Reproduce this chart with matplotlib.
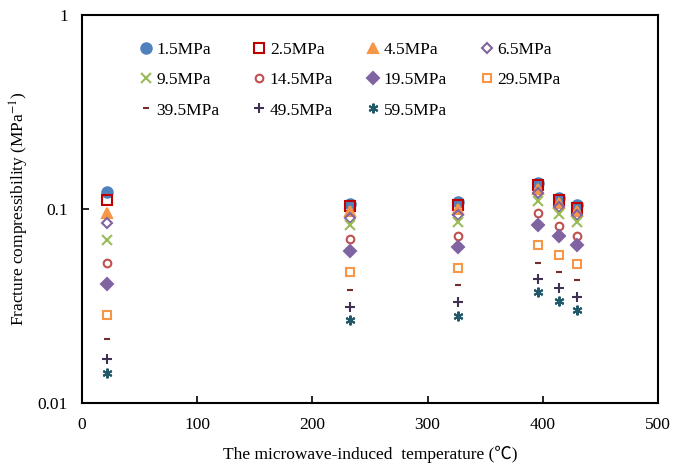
import numpy as np
import matplotlib.pyplot as plt

plt.rcParams['font.family'] = ['Liberation Serif', 'Noto Sans CJK SC', 'DejaVu Sans']
plt.rcParams['mathtext.fontset'] = 'stix'

# microwave-induced temperature of each sample (C)
temps = [22, 233, 326, 396, 414, 430]

pressures = ['1.5MPa', '2.5MPa', '4.5MPa', '6.5MPa', '9.5MPa', '14.5MPa',
             '19.5MPa', '29.5MPa', '39.5MPa', '49.5MPa', '59.5MPa']

# fracture compressibility (MPa^-1), one list per effective stress
c_1_5 = [0.122, 0.106, 0.109, 0.136, 0.114, 0.105]
c_2_5 = [0.111, 0.104, 0.105, 0.133, 0.111, 0.101]
c_4_5 = [0.095, 0.098, 0.100, 0.127, 0.107, 0.098]
c_6_5 = [0.085, 0.090, 0.093, 0.121, 0.102, 0.093]
c_9_5 = [0.069, 0.083, 0.086, 0.110, 0.094, 0.086]
c_14_5 = [0.053, 0.070, 0.073, 0.095, 0.082, 0.073]
c_19_5 = [0.041, 0.061, 0.064, 0.083, 0.073, 0.065]
c_29_5 = [0.0284, 0.0473, 0.0497, 0.065, 0.058, 0.052]
c_39_5 = [0.0214, 0.0382, 0.0406, 0.0527, 0.0473, 0.0431]
c_49_5 = [0.0169, 0.0312, 0.0332, 0.0436, 0.0391, 0.0352]
c_59_5 = [0.0143, 0.0268, 0.0281, 0.0373, 0.0336, 0.0302]

series = [c_1_5, c_2_5, c_4_5, c_6_5, c_9_5, c_14_5,
          c_19_5, c_29_5, c_39_5, c_49_5, c_59_5]

# marker, size, face colour, edge colour
styles = [
    ('o', 7.5, '#4F81BD', '#4F81BD'),
    ('s', 7, 'none', '#C00000'),
    ('^', 7, '#F79646', '#F79646'),
    ('D', 5.5, 'none', '#8064A2'),
    ('x', 7, 'none', '#9BBB59'),
    ('o', 5.5, 'none', '#C0504D'),
    ('D', 6, '#8064A2', '#8064A2'),
    ('s', 6, 'none', '#F79646'),
    ('_', 5, 'none', '#772C2A'),
    ('+', 7, 'none', '#403152'),
    ((6, 2, 0), 7, 'none', '#215968'),
]

fig = plt.figure(figsize=(6.73, 4.65), dpi=100)
ax = fig.add_axes([0.1218, 0.1333, 0.8559, 0.8344])

handles = []
for vals, name, (m, ms, fc, ec) in zip(series, pressures, styles):
    h, = ax.plot(temps, vals, linestyle='none', marker=m, markersize=ms,
                 markerfacecolor=fc, markeredgecolor=ec, markeredgewidth=1.5,
                 label=name)
    handles.append(h)

ax.set_yscale('log')
ax.set_xlim(0, 500)
ax.set_ylim(0.01, 1)
ax.set_xticks([0, 100, 200, 300, 400, 500])
ax.set_yticks([0.01, 0.1, 1])
ax.set_yticklabels(['0.01', '0.1', '1'])
ax.yaxis.set_minor_locator(plt.NullLocator())
ax.tick_params(direction='in', length=5, width=1.2, labelsize=12.5, pad=10)
for s in ax.spines.values():
    s.set_linewidth(1.5)

ax.set_xlabel('The microwave-induced  temperature (\u2103)', fontsize=12.5, labelpad=9)
ax.set_ylabel('Fracture compressibility (MPa$^{-1}$)', fontsize=12.5, labelpad=5)

# reorder so the 4-column legend reads row by row
order = [0, 4, 8, 1, 5, 9, 2, 6, 10, 3, 7]
ax.legend([handles[i] for i in order], [pressures[i] for i in order],
          ncol=4, frameon=False, fontsize=12.5, loc='upper left',
          bbox_to_anchor=(0.075, 0.97), handlelength=0.6, handletextpad=0.3,
          columnspacing=2.0, labelspacing=0.8)

fig.savefig('out.png', dpi=100)
